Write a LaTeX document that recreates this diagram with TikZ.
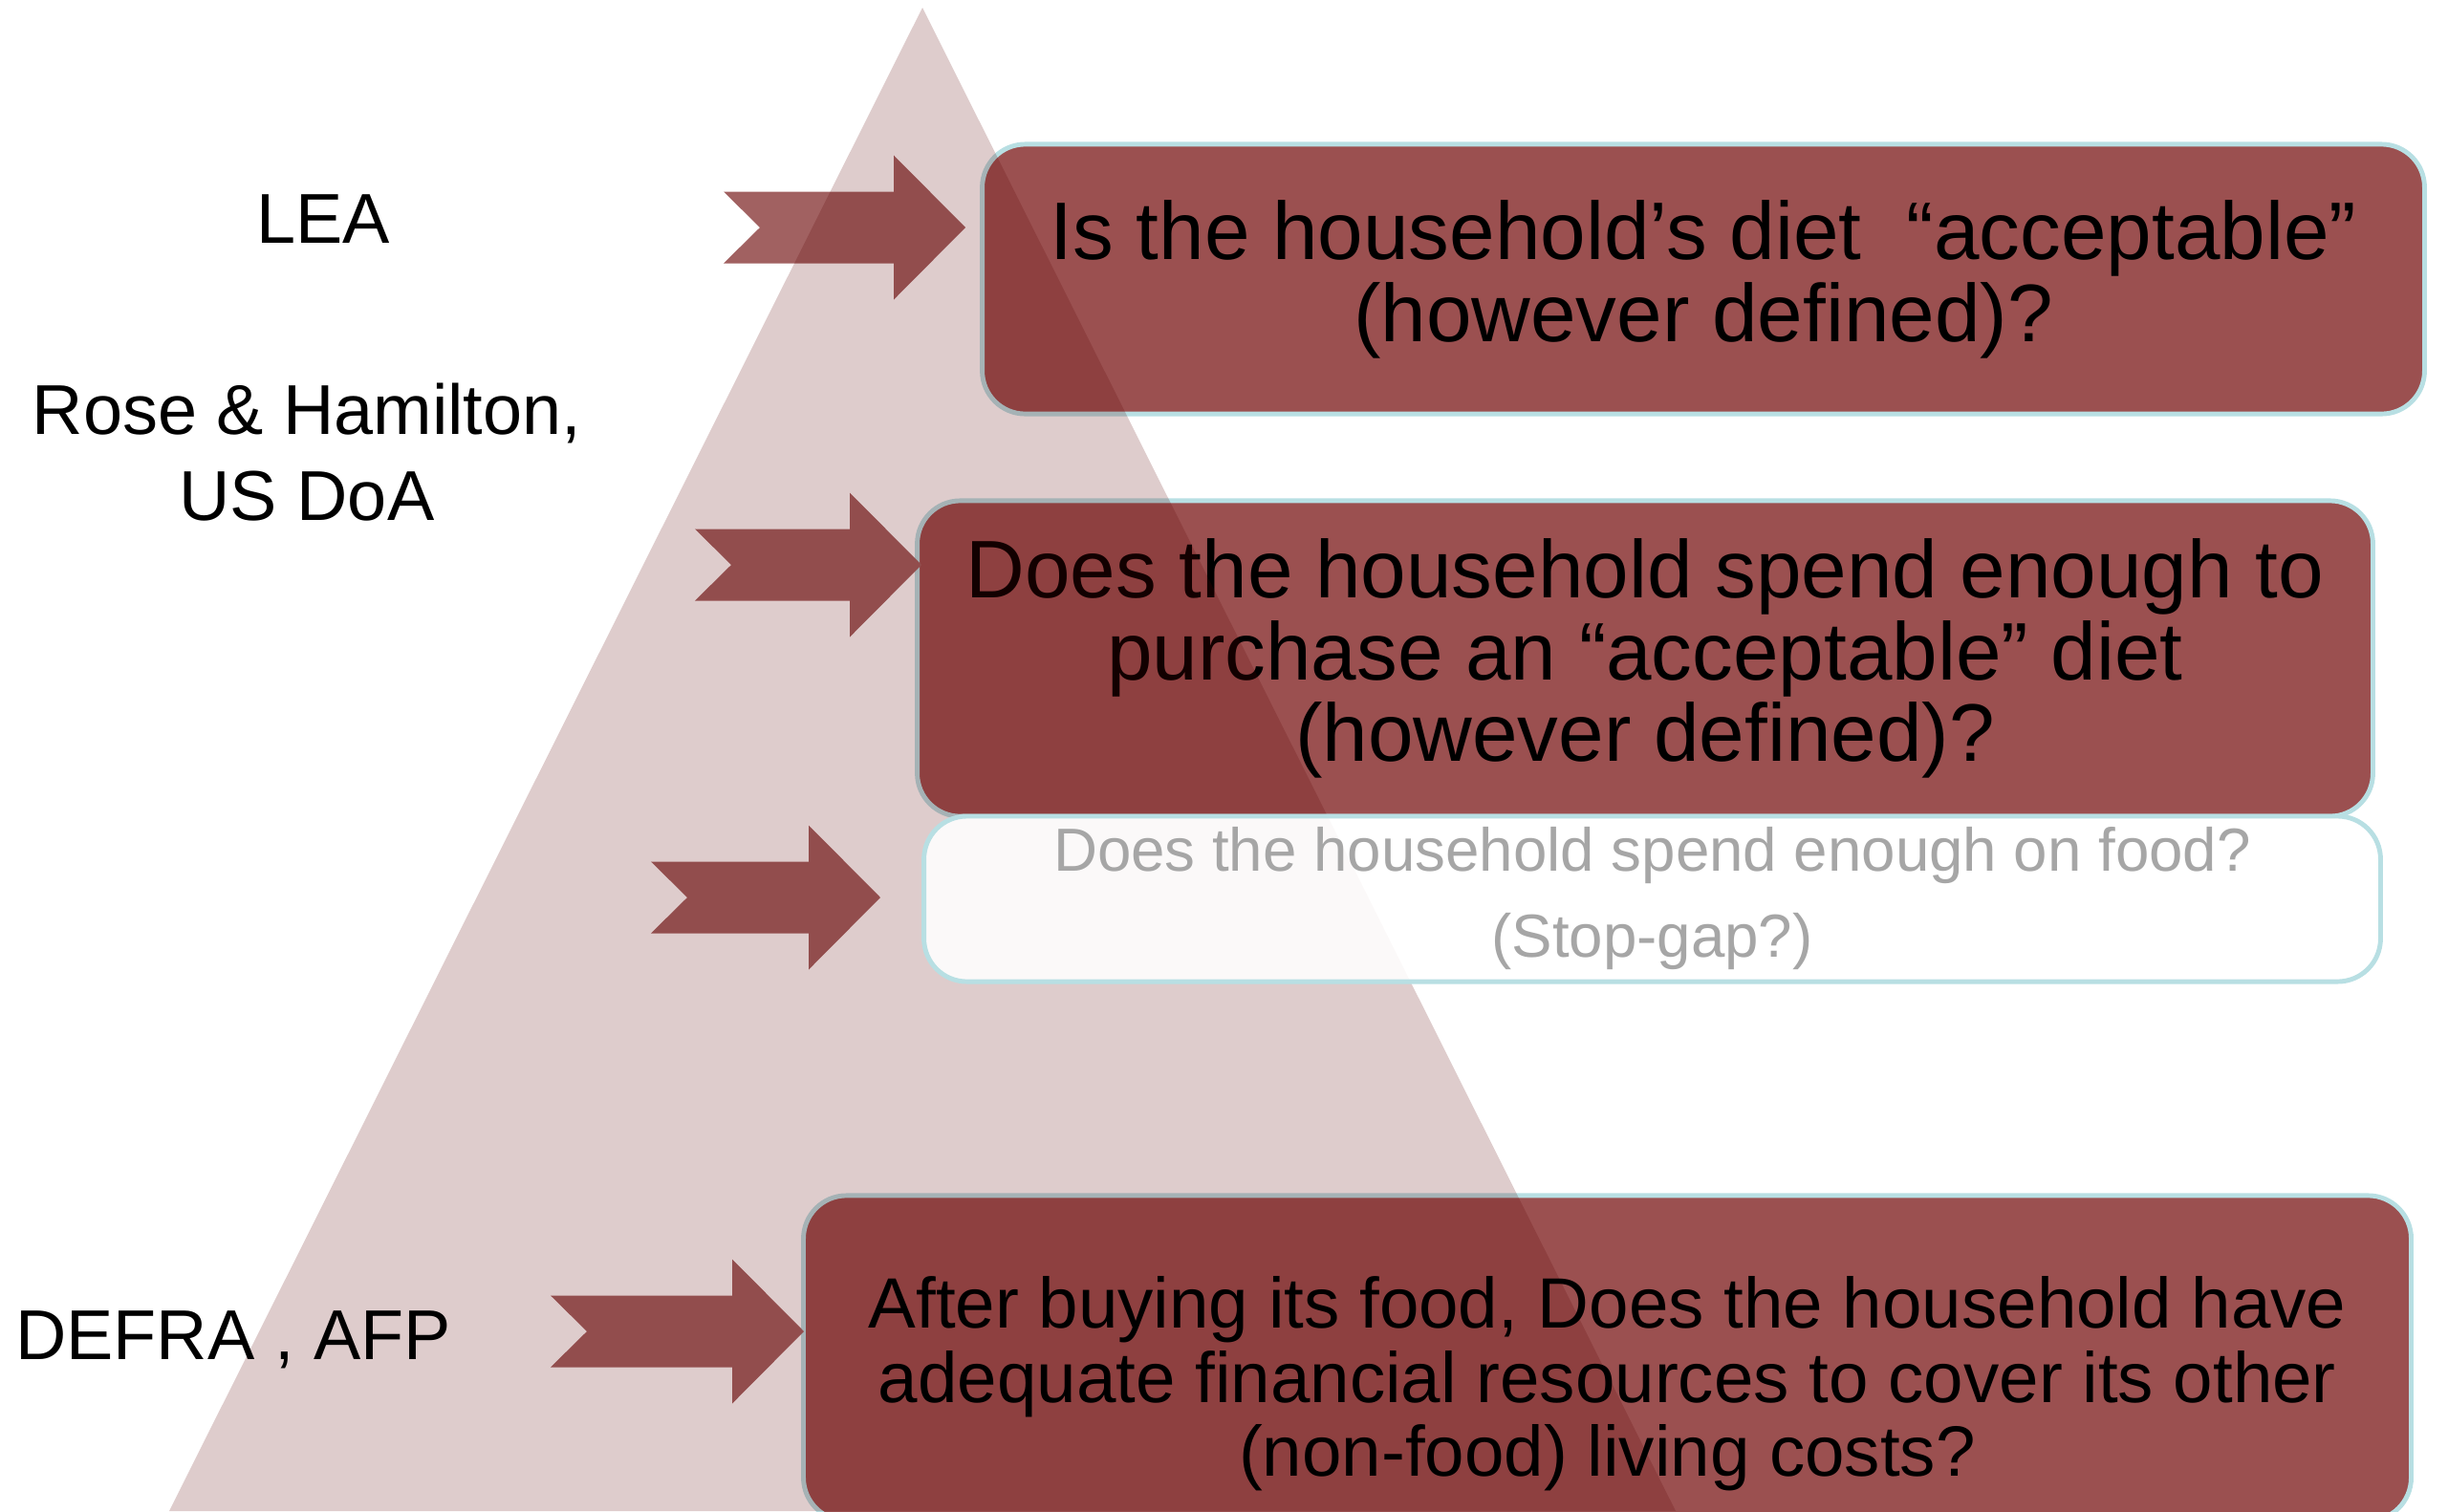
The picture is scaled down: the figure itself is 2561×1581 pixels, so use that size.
\documentclass[tikz,border=0pt]{standalone}
\usepackage{fontspec}
\setmainfont{Liberation Sans}
\usetikzlibrary{positioning}
\definecolor{boxred}{RGB}{155,80,80}
\definecolor{arrowred}{RGB}{161,97,97}
\definecolor{pyramid}{RGB}{90,0,0}
\definecolor{edgecyan}{RGB}{184,223,227}
\definecolor{greytext}{RGB}{166,166,166}

\begin{document}
\begin{tikzpicture}[x=0.01cm,y=-0.01cm,
    qbox/.style={draw=edgecyan,line width=1.4pt,rounded corners=0.45cm,fill=boxred,inner sep=0pt,align=center},
    bigq/.style={font=\fontsize{24.3}{24.4}\selectfont},
    source/.style={align=center,font=\fontsize{21}{25.6}\selectfont},
    pics/chevarrow/.style={code={
      \fill[arrowred] (0,0) -- (-75,-75.5) -- (-75,-37.5) -- (-#1,-37.5) -- ({-#1+38},0)
        -- (-#1,37.5) -- (-75,37.5) -- (-75,75.5) -- cycle;}}]
  \useasboundingbox (0,0) rectangle (2561,1581);

  \node[qbox,bigq,minimum width=15.08cm,minimum height=2.82cm] (diet) at (1782,292)
    {Is the household’s diet~~“acceptable”\\(however defined)?};
  \node[qbox,bigq,minimum width=15.22cm,minimum height=3.3cm] (spend) at (1721,689)
    {Does the household spend enough to\\purchase an “acceptable” diet\\(however defined)?};
  \node[qbox,minimum width=16.81cm,minimum height=3.4cm] (afford) at (1681.5,1421) {};

  \pic at (1010,238) {chevarrow=253};
  \pic at (964,591) {chevarrow=237};
  \pic at (921,939) {chevarrow=240};
  \pic at (841,1393) {chevarrow=265};

  \coordinate (apex) at (965,8);
  \fill[pyramid,fill opacity=0.2] (apex) -- (1753,1581) -- (177,1581) -- cycle;

  \node[qbox,fill=white,fill opacity=0.9,text opacity=1,text=greytext,
        font=\fontsize{18.1}{25.6}\selectfont,minimum width=15.23cm,minimum height=1.73cm] (food) at (1728.5,940.5)
    {Does the household spend enough on food?\\(Stop-gap?)};

  \node[align=center,font=\fontsize{21.2}{22}\selectfont] (affordtext) at ([yshift=-0.27cm]afford.center)
    {After buying its food, Does the household have\\adequate financial resources to cover its other\\(non-food) living costs?};

  \node[source] (lea) at (338,229) {LEA};
  \node[source] (rose) at (321,473) {Rose \& Hamilton,\\US DoA};
  \node[source] (defra) at (244,1402) {DEFRA , AFP};
\end{tikzpicture}
\end{document}
